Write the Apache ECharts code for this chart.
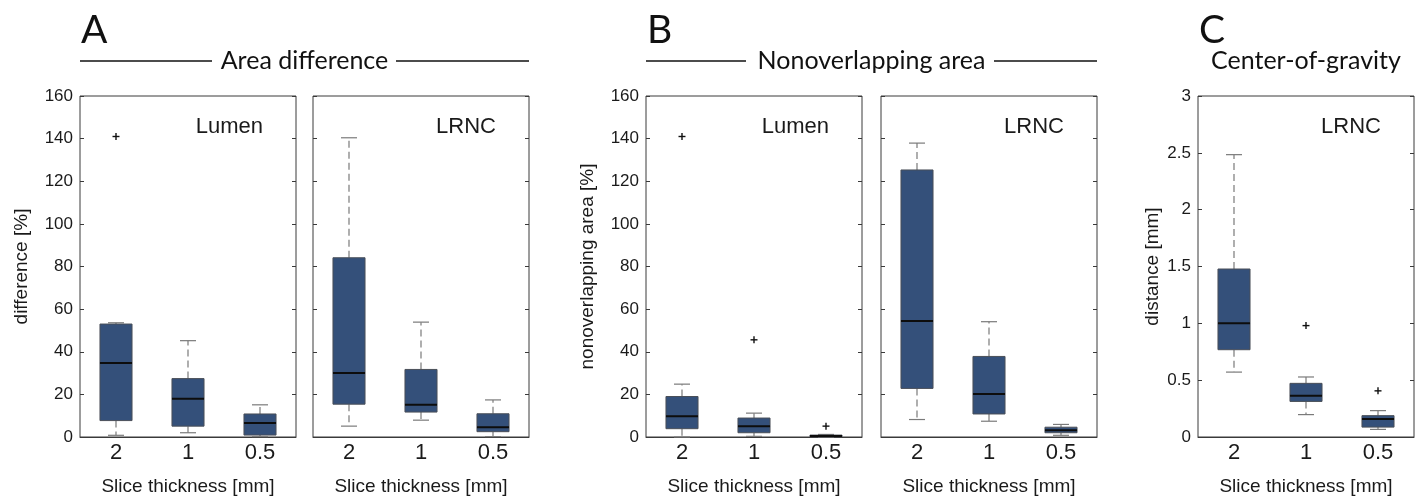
<!DOCTYPE html>
<html>
<head>
<meta charset="utf-8">
<script src="https://cdn.jsdelivr.net/npm/echarts@6/dist/echarts.min.js"></script>
<style>
html,body{margin:0;padding:0;background:#fff;}
#chart{width:1421px;height:501px;}
</style>
</head>
<body>
<div id="chart"></div>
<script>
// ---- data ----
const categories = ['2', '1', '0.5'];
// each box: [lower whisker, Q1, median, Q3, upper whisker]
const areaLumenBoxes = [[0.8, 7.7, 34.7, 53.0, 53.6], [2.0, 5.1, 17.9, 27.4, 45.2], [0.2, 0.9, 6.6, 10.8, 15.1]];
const areaLumenOutliers = [[0, 141]];
const areaLrncBoxes = [[5.1, 15.4, 30.0, 84.1, 140.4], [7.9, 11.7, 15.1, 31.7, 53.9], [0.2, 2.5, 4.6, 10.9, 17.4]];
const areaLrncOutliers = [];
const nonovLumenBoxes = [[0.0, 3.9, 9.7, 19.0, 24.8], [0.3, 2.0, 5.1, 8.9, 11.2], [0.0, 0.1, 0.5, 0.9, 1.2]];
const nonovLumenOutliers = [[0, 141], [1, 45.6], [2, 5.1]];
const nonovLrncBoxes = [[8.2, 22.8, 54.4, 125.3, 137.9], [7.4, 10.8, 20.2, 37.8, 54.1], [0.8, 2.0, 3.2, 4.6, 5.9]];
const nonovLrncOutliers = [];
const cogLrncBoxes = [[0.571, 0.768, 1.0, 1.478, 2.484], [0.197, 0.313, 0.362, 0.472, 0.528], [0.067, 0.087, 0.159, 0.188, 0.232]];
const cogLrncOutliers = [[1, 0.98], [2, 0.406]];

const percentTicks = { min: 0, max: 160, interval: 20 };
const mmTicks = { min: 0, max: 3, interval: 0.5 };

const panelNames = ['Lumen', 'LRNC', 'Lumen', 'LRNC', 'LRNC'];
const yNames = ['difference [%]', '', 'nonoverlapping area [%]', '', 'distance [mm]'];
const xName = 'Slice thickness [mm]';
const headers = ['Area difference', 'Nonoverlapping area', 'Center-of-gravity'];
const letters = ['A', 'B', 'C'];

// ---- layout ----
const gridLefts = [80, 313, 646, 881, 1198];
const GW = 216, GT = 96, GH = 345;
const yNameGaps = [49, 0, 49, 0, 36];
const BOX_FILL = '#34507a', BOX_EDGE = '#4a4f58', WHISK = '#7a7a7a', TXT = '#1a1a1a';

function boxItem(params, api) {
  const x = api.value(0);
  const lo = api.coord([x, api.value(1)]);
  const q1 = api.coord([x, api.value(2)]);
  const md = api.coord([x, api.value(3)]);
  const q3 = api.coord([x, api.value(4)]);
  const hi = api.coord([x, api.value(5)]);
  const band = api.size([1, 0])[0];
  const bw = band * 0.445, cw = bw * 0.5;
  const cx = lo[0];
  const dash = { stroke: WHISK, lineWidth: 1.2, lineDash: [7, 4] };
  const solid = { stroke: WHISK, lineWidth: 1.2 };
  return {
    type: 'group',
    children: [
      { type: 'line', shape: { x1: cx, y1: q3[1], x2: cx, y2: hi[1] }, style: dash },
      { type: 'line', shape: { x1: cx, y1: q1[1], x2: cx, y2: lo[1] }, style: dash },
      { type: 'line', shape: { x1: cx - cw / 2, y1: hi[1], x2: cx + cw / 2, y2: hi[1] }, style: solid },
      { type: 'line', shape: { x1: cx - cw / 2, y1: lo[1], x2: cx + cw / 2, y2: lo[1] }, style: solid },
      { type: 'rect', shape: { x: cx - bw / 2, y: q3[1], width: bw, height: Math.max(q1[1] - q3[1], 1.5) },
        style: { fill: BOX_FILL, stroke: BOX_EDGE, lineWidth: 1 } },
      { type: 'line', shape: { x1: cx - bw / 2, y1: md[1], x2: cx + bw / 2, y2: md[1] },
        style: { stroke: '#0d0d0d', lineWidth: 2 } }
    ]
  };
}
function plusItem(params, api) {
  const p = api.coord([api.value(0), api.value(1)]);
  const s = 3.5;
  const st = { stroke: '#111', lineWidth: 1.4 };
  return {
    type: 'group',
    children: [
      { type: 'line', shape: { x1: p[0] - s, y1: p[1], x2: p[0] + s, y2: p[1] }, style: st },
      { type: 'line', shape: { x1: p[0], y1: p[1] - s, x2: p[0], y2: p[1] + s }, style: st }
    ]
  };
}

const boxSets = [areaLumenBoxes, areaLrncBoxes, nonovLumenBoxes, nonovLrncBoxes, cogLrncBoxes];
const outSets = [areaLumenOutliers, areaLrncOutliers, nonovLumenOutliers, nonovLrncOutliers, cogLrncOutliers];
const tickSets = [percentTicks, percentTicks, percentTicks, percentTicks, mmTicks];

const grid = [], xAxis = [], yAxis = [], series = [], graphic = [];
gridLefts.forEach((left, i) => {
  grid.push({ left: left, top: GT, width: GW, height: GH, show: true, borderColor: '#3a3a3a', borderWidth: 1, backgroundColor: '#fff' });
  xAxis.push({
    type: 'category', gridIndex: i, data: categories, boundaryGap: true,
    axisLine: { show: true, lineStyle: { color: '#3a3a3a' } },
    axisTick: { show: false },
    axisLabel: { color: TXT, fontSize: 22, margin: 5, fontFamily: 'Liberation Sans, Arial' },
    name: xName, nameLocation: 'middle', nameGap: 40,
    nameTextStyle: { color: TXT, fontSize: 19, fontFamily: 'Liberation Sans, Arial' }
  });
  const t = tickSets[i];
  const hasLabels = yNames[i] !== '';
  yAxis.push({
    type: 'value', gridIndex: i, min: t.min, max: t.max, interval: t.interval,
    axisLine: { show: false },
    axisTick: { show: true, inside: true, length: 4, lineStyle: { color: '#3a3a3a' } },
    splitLine: { show: false },
    axisLabel: { show: hasLabels, color: TXT, fontSize: 17, margin: 7, fontFamily: 'Liberation Sans, Arial' },
    name: yNames[i], nameLocation: 'middle', nameGap: yNameGaps[i],
    nameTextStyle: { color: TXT, fontSize: 19, fontFamily: 'Liberation Sans, Arial' }
  });
  yAxis.push({
    type: 'value', gridIndex: i, position: 'right', min: t.min, max: t.max, interval: t.interval,
    axisLine: { show: false },
    axisTick: { show: true, inside: true, length: 4, lineStyle: { color: '#3a3a3a' } },
    splitLine: { show: false }, axisLabel: { show: false }
  });
  series.push({
    type: 'custom', xAxisIndex: i, yAxisIndex: 2 * i, renderItem: boxItem,
    encode: { x: 0, y: [1, 2, 3, 4, 5] },
    data: boxSets[i].map((b, k) => [k].concat(b)), z: 3
  });
  series.push({
    type: 'custom', xAxisIndex: i, yAxisIndex: 2 * i, renderItem: plusItem,
    encode: { x: 0, y: 1 }, data: outSets[i], z: 4
  });
  graphic.push({
    type: 'text', right: 1421 - (left + GW - 33), top: 116,
    style: { text: panelNames[i], fill: TXT, font: '22px "Liberation Sans", Arial' }
  });
});

// panel headers
const headerSpans = [[80, 529], [646, 1097], [1198, 1414]];
headerSpans.forEach((sp, k) => {
  const cxh = (sp[0] + sp[1]) / 2;
  graphic.push({
    type: 'text', x: cxh, y: 61,
    style: { text: headers[k], fill: '#111', font: '25px Lato', align: 'center', verticalAlign: 'middle' }
  });
  graphic.push({
    type: 'text', x: sp[0] + 1, y: 30,
    style: { text: letters[k], fill: '#111', font: '39px Lato', align: 'left', verticalAlign: 'middle' }
  });
});
const headerLines = [[80, 212, 396, 529], [646, 746, 994, 1097]];
headerLines.forEach(l => {
  graphic.push({ type: 'line', shape: { x1: l[0], y1: 61, x2: l[1], y2: 61 }, style: { stroke: '#111', lineWidth: 1.3 } });
  graphic.push({ type: 'line', shape: { x1: l[2], y1: 61, x2: l[3], y2: 61 }, style: { stroke: '#111', lineWidth: 1.3 } });
});

const chart = echarts.init(document.getElementById('chart'), null, { renderer: 'canvas' });
chart.setOption({
  animation: false,
  backgroundColor: '#fff',
  grid, xAxis, yAxis, series, graphic
});
</script>
</body>
</html>
